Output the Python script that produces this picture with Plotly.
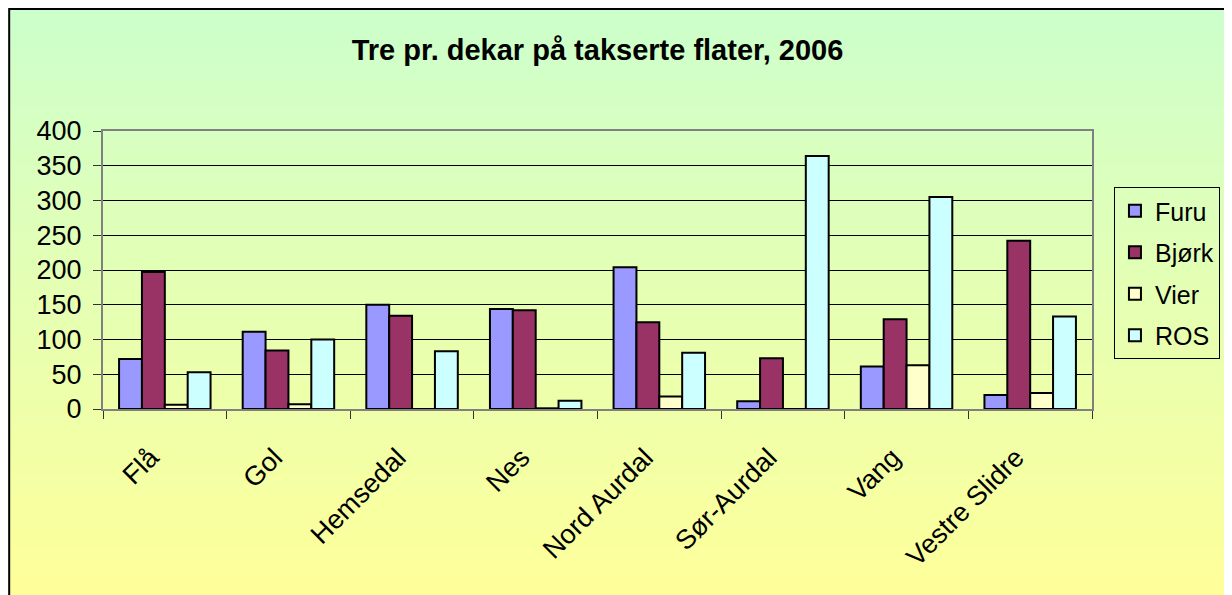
import plotly.graph_objects as go

categories = ["Flå", "Gol", "Hemsedal", "Nes", "Nord Aurdal", "Sør-Aurdal", "Vang", "Vestre Slidre"]
furu = [72, 111, 150, 144, 204, 11, 61, 20]
bjork = [197, 84, 134, 142, 125, 73, 129, 242]
vier = [6, 7, 0, 1, 18, 0, 63, 23]
ros = [53, 100, 83, 12, 81, 364, 305, 133]
y_ticks = [0, 50, 100, 150, 200, 250, 300, 350, 400]

series = [
    ("Furu", furu, "#9999FF"),
    ("Bjørk", bjork, "#993366"),
    ("Vier", vier, "#FFFFCC"),
    ("ROS", ros, "#CCFFFF"),
]

fig = go.Figure()
for name, vals, col in series:
    fig.add_trace(go.Bar(
        name=name, x=categories, y=vals, legendgroup=name,
        marker=dict(color=col, line=dict(color="black", width=2)),
    ))

# page has an 8px body margin, so figure pixel coords = page coords - 8
W, H = 1224, 587
ml, mr, mt, mb = 95, 138, 123, 186
pw, ph = W - ml - mr, H - mt - mb


def fx(x):
    return (x - ml) / pw


def fy(y):
    return (H - mb - y) / ph


shapes = []
top_px, bot_px = 0.0, 592.0
n = 90
c0 = (204, 255, 204)
c1 = (255, 255, 153)
for i in range(n):
    ya = top_px + (bot_px - top_px) * i / n
    yb = top_px + (bot_px - top_px) * (i + 1) / n + 0.8
    t = (i + 0.5) / n
    c = tuple(round(c0[k] + (c1[k] - c0[k]) * t) for k in range(3))
    shapes.append(dict(
        type="rect", xref="paper", yref="paper", layer="below",
        x0=fx(0), x1=fx(W + 10), y0=fy(yb), y1=fy(ya),
        fillcolor="rgb(%d,%d,%d)" % c, line=dict(width=0),
    ))
shapes.append(dict(
    type="rect", xref="paper", yref="paper", layer="below",
    x0=fx(1), x1=fx(W + 20), y0=fy(H + 20), y1=fy(1),
    fillcolor="rgba(0,0,0,0)", line=dict(color="black", width=2),
))

fig.update_layout(
    width=W, height=H,
    margin=dict(l=ml, r=mr, t=mt, b=mb, pad=0),
    paper_bgcolor="white",
    plot_bgcolor="rgba(0,0,0,0)",
    shapes=shapes,
    barmode="group",
    bargap=0.26,
    bargroupgap=0,
    font=dict(family="Liberation Sans, Arial, sans-serif", color="black"),
    title=dict(
        text="<b>Tre pr. dekar på takserte flater, 2006</b>",
        x=0.5, xref="paper", xanchor="center",
        y=1 - 42 / H, yanchor="middle",
        font=dict(size=29, color="black"),
    ),
    showlegend=True,
    legend=dict(
        x=fx(1108), y=fy(179), xanchor="left", yanchor="top",
        xref="paper", yref="paper",
        bgcolor="rgba(0,0,0,0)", bordercolor="black", borderwidth=1,
        font=dict(size=25, color="black"),
        traceorder="grouped", tracegroupgap=6,
    ),
    xaxis=dict(
        type="category", tickson="boundaries",
        ticks="outside", ticklen=8, tickcolor="#333333", tickwidth=1,
        showline=True, linecolor="#808080", linewidth=2, mirror=True,
        tickangle=-45, tickfont=dict(size=27),
        ticklabelstandoff=20, ticklabelshift=-14,
        showgrid=False,
    ),
    yaxis=dict(
        range=[0, 400], tickvals=y_ticks,
        ticks="outside", ticklen=8, tickcolor="#333333", tickwidth=1,
        showline=True, linecolor="#808080", linewidth=2, mirror=True,
        showgrid=True, gridcolor="black", gridwidth=1,
        tickfont=dict(size=27), zeroline=False, ticklabelstandoff=6,
    ),
)

fig.write_html("out.html")
